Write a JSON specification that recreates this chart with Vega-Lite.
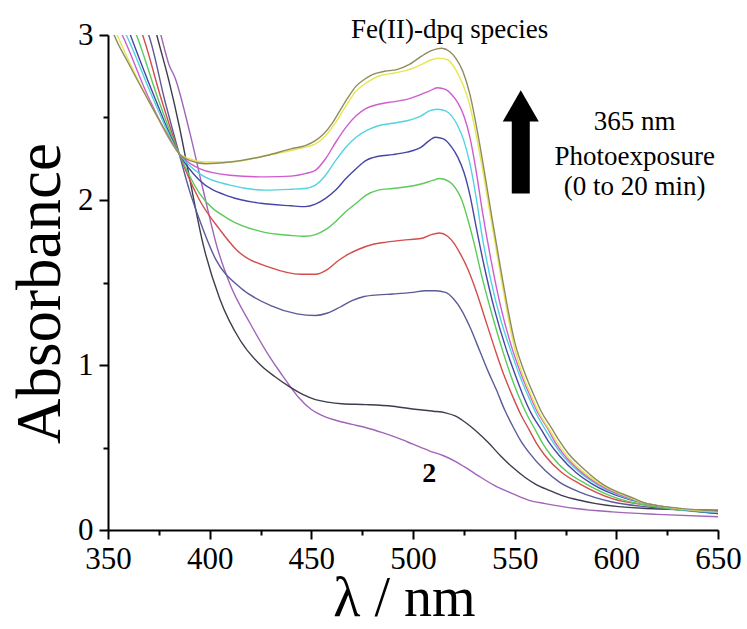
{
  "$schema": "https://vega.github.io/schema/vega-lite/v6.json",
  "width": 610,
  "height": 495,
  "autosize": {"type": "none"},
  "padding": {"left": 108, "top": 35, "right": 29, "bottom": 99},
  "background": "white",
  "config": {
    "view": {"stroke": null},
    "font": "Liberation Serif",
    "axis": {
      "grid": false,
      "domainColor": "black",
      "domainWidth": 2,
      "tickColor": "black",
      "tickWidth": 2,
      "labelColor": "black",
      "titleColor": "black",
      "labelFont": "Liberation Serif",
      "titleFont": "Liberation Serif",
      "titleFontWeight": "normal"
    }
  },
  "datasets": {
    "spectra": [
      {"t":"t0","wl":350,"A":3.6},{"t":"t0","wl":370,"A":3.25},{"t":"t0","wl":376,"A":3.0},{"t":"t0","wl":380,"A":2.82},{"t":"t0","wl":383,"A":2.74},{"t":"t0","wl":390,"A":2.42},{"t":"t0","wl":397,"A":2.05},{"t":"t0","wl":404,"A":1.70},{"t":"t0","wl":410,"A":1.49},{"t":"t0","wl":420,"A":1.25},{"t":"t0","wl":430,"A":1.04},{"t":"t0","wl":435,"A":0.95},{"t":"t0","wl":439,"A":0.88},{"t":"t0","wl":444,"A":0.80},{"t":"t0","wl":450,"A":0.73},{"t":"t0","wl":456,"A":0.69},{"t":"t0","wl":462,"A":0.665},{"t":"t0","wl":470,"A":0.64},{"t":"t0","wl":477,"A":0.62},{"t":"t0","wl":485,"A":0.59},{"t":"t0","wl":493,"A":0.555},{"t":"t0","wl":500,"A":0.52},{"t":"t0","wl":508,"A":0.48},{"t":"t0","wl":515,"A":0.45},{"t":"t0","wl":521,"A":0.415},{"t":"t0","wl":527,"A":0.37},{"t":"t0","wl":532,"A":0.33},{"t":"t0","wl":540,"A":0.27},{"t":"t0","wl":549,"A":0.22},{"t":"t0","wl":557,"A":0.18},{"t":"t0","wl":565,"A":0.16},{"t":"t0","wl":580,"A":0.13},{"t":"t0","wl":598,"A":0.11},{"t":"t0","wl":620,"A":0.095},{"t":"t0","wl":650,"A":0.08},

      {"t":"t1","wl":350,"A":3.6},{"t":"t1","wl":370,"A":3.2},{"t":"t1","wl":374,"A":3.0},{"t":"t1","wl":380,"A":2.72},{"t":"t1","wl":385,"A":2.45},{"t":"t1","wl":390,"A":2.14},{"t":"t1","wl":397,"A":1.72},{"t":"t1","wl":405,"A":1.40},{"t":"t1","wl":415,"A":1.15},{"t":"t1","wl":425,"A":1.00},{"t":"t1","wl":432,"A":0.93},{"t":"t1","wl":439,"A":0.87},{"t":"t1","wl":446,"A":0.82},{"t":"t1","wl":452,"A":0.79},{"t":"t1","wl":458,"A":0.775},{"t":"t1","wl":465,"A":0.765},{"t":"t1","wl":477,"A":0.76},{"t":"t1","wl":490,"A":0.75},{"t":"t1","wl":502,"A":0.73},{"t":"t1","wl":510,"A":0.72},{"t":"t1","wl":516,"A":0.71},{"t":"t1","wl":521,"A":0.69},{"t":"t1","wl":526,"A":0.65},{"t":"t1","wl":531,"A":0.60},{"t":"t1","wl":537,"A":0.53},{"t":"t1","wl":543,"A":0.45},{"t":"t1","wl":549,"A":0.38},{"t":"t1","wl":555,"A":0.32},{"t":"t1","wl":560,"A":0.28},{"t":"t1","wl":567,"A":0.24},{"t":"t1","wl":573,"A":0.21},{"t":"t1","wl":582,"A":0.18},{"t":"t1","wl":590,"A":0.16},{"t":"t1","wl":615,"A":0.13},{"t":"t1","wl":650,"A":0.12},

      {"t":"t2","wl":350,"A":3.4},{"t":"t2","wl":366,"A":3.1},{"t":"t2","wl":370,"A":3.0},{"t":"t2","wl":378,"A":2.6},{"t":"t2","wl":385,"A":2.28},{"t":"t2","wl":390,"A":2.06},{"t":"t2","wl":395,"A":1.88},{"t":"t2","wl":403,"A":1.64},{"t":"t2","wl":415,"A":1.47},{"t":"t2","wl":430,"A":1.36},{"t":"t2","wl":443,"A":1.31},{"t":"t2","wl":452,"A":1.30},{"t":"t2","wl":458,"A":1.315},{"t":"t2","wl":464,"A":1.35},{"t":"t2","wl":470,"A":1.39},{"t":"t2","wl":476,"A":1.415},{"t":"t2","wl":483,"A":1.425},{"t":"t2","wl":490,"A":1.43},{"t":"t2","wl":500,"A":1.44},{"t":"t2","wl":506,"A":1.45},{"t":"t2","wl":511,"A":1.45},{"t":"t2","wl":516,"A":1.44},{"t":"t2","wl":520,"A":1.40},{"t":"t2","wl":524,"A":1.33},{"t":"t2","wl":528,"A":1.23},{"t":"t2","wl":533,"A":1.08},{"t":"t2","wl":537,"A":0.96},{"t":"t2","wl":541,"A":0.85},{"t":"t2","wl":545,"A":0.73},{"t":"t2","wl":549,"A":0.63},{"t":"t2","wl":553,"A":0.54},{"t":"t2","wl":557,"A":0.47},{"t":"t2","wl":565,"A":0.36},{"t":"t2","wl":572,"A":0.29},{"t":"t2","wl":582,"A":0.23},{"t":"t2","wl":598,"A":0.17},{"t":"t2","wl":615,"A":0.14},{"t":"t2","wl":650,"A":0.11},

      {"t":"t3","wl":350,"A":3.4},{"t":"t3","wl":362,"A":3.15},{"t":"t3","wl":367,"A":3.0},{"t":"t3","wl":376,"A":2.62},{"t":"t3","wl":385,"A":2.28},{"t":"t3","wl":395,"A":2.00},{"t":"t3","wl":405,"A":1.82},{"t":"t3","wl":413,"A":1.70},{"t":"t3","wl":430,"A":1.59},{"t":"t3","wl":445,"A":1.55},{"t":"t3","wl":452,"A":1.55},{"t":"t3","wl":458,"A":1.58},{"t":"t3","wl":463,"A":1.63},{"t":"t3","wl":468,"A":1.67},{"t":"t3","wl":473,"A":1.70},{"t":"t3","wl":480,"A":1.73},{"t":"t3","wl":487,"A":1.745},{"t":"t3","wl":498,"A":1.76},{"t":"t3","wl":505,"A":1.77},{"t":"t3","wl":509,"A":1.79},{"t":"t3","wl":513,"A":1.80},{"t":"t3","wl":517,"A":1.78},{"t":"t3","wl":520,"A":1.74},{"t":"t3","wl":523,"A":1.68},{"t":"t3","wl":527,"A":1.58},{"t":"t3","wl":531,"A":1.45},{"t":"t3","wl":536,"A":1.26},{"t":"t3","wl":541,"A":1.07},{"t":"t3","wl":545,"A":0.93},{"t":"t3","wl":549,"A":0.81},{"t":"t3","wl":553,"A":0.70},{"t":"t3","wl":557,"A":0.61},{"t":"t3","wl":561,"A":0.52},{"t":"t3","wl":565,"A":0.45},{"t":"t3","wl":573,"A":0.35},{"t":"t3","wl":582,"A":0.28},{"t":"t3","wl":598,"A":0.19},{"t":"t3","wl":615,"A":0.15},{"t":"t3","wl":650,"A":0.10},

      {"t":"t4","wl":350,"A":3.35},{"t":"t4","wl":360,"A":3.12},{"t":"t4","wl":364,"A":3.0},{"t":"t4","wl":375,"A":2.60},{"t":"t4","wl":385,"A":2.28},{"t":"t4","wl":395,"A":2.04},{"t":"t4","wl":410,"A":1.88},{"t":"t4","wl":425,"A":1.81},{"t":"t4","wl":440,"A":1.785},{"t":"t4","wl":447,"A":1.78},{"t":"t4","wl":452,"A":1.79},{"t":"t4","wl":457,"A":1.82},{"t":"t4","wl":462,"A":1.87},{"t":"t4","wl":467,"A":1.93},{"t":"t4","wl":472,"A":1.98},{"t":"t4","wl":477,"A":2.03},{"t":"t4","wl":483,"A":2.06},{"t":"t4","wl":490,"A":2.07},{"t":"t4","wl":497,"A":2.08},{"t":"t4","wl":505,"A":2.10},{"t":"t4","wl":510,"A":2.12},{"t":"t4","wl":513,"A":2.13},{"t":"t4","wl":518,"A":2.11},{"t":"t4","wl":521,"A":2.07},{"t":"t4","wl":524,"A":2.00},{"t":"t4","wl":527,"A":1.88},{"t":"t4","wl":530,"A":1.74},{"t":"t4","wl":534,"A":1.53},{"t":"t4","wl":539,"A":1.30},{"t":"t4","wl":544,"A":1.09},{"t":"t4","wl":548,"A":0.94},{"t":"t4","wl":552,"A":0.81},{"t":"t4","wl":556,"A":0.70},{"t":"t4","wl":560,"A":0.61},{"t":"t4","wl":564,"A":0.52},{"t":"t4","wl":568,"A":0.45},{"t":"t4","wl":576,"A":0.35},{"t":"t4","wl":585,"A":0.28},{"t":"t4","wl":601,"A":0.19},{"t":"t4","wl":615,"A":0.15},{"t":"t4","wl":650,"A":0.10},

      {"t":"t5","wl":350,"A":3.3},{"t":"t5","wl":358,"A":3.1},{"t":"t5","wl":361,"A":3.0},{"t":"t5","wl":373,"A":2.62},{"t":"t5","wl":385,"A":2.28},{"t":"t5","wl":395,"A":2.12},{"t":"t5","wl":410,"A":2.02},{"t":"t5","wl":425,"A":1.98},{"t":"t5","wl":440,"A":1.965},{"t":"t5","wl":447,"A":1.96},{"t":"t5","wl":452,"A":1.975},{"t":"t5","wl":457,"A":2.01},{"t":"t5","wl":462,"A":2.06},{"t":"t5","wl":467,"A":2.13},{"t":"t5","wl":472,"A":2.19},{"t":"t5","wl":477,"A":2.24},{"t":"t5","wl":483,"A":2.265},{"t":"t5","wl":490,"A":2.275},{"t":"t5","wl":497,"A":2.29},{"t":"t5","wl":504,"A":2.32},{"t":"t5","wl":508,"A":2.36},{"t":"t5","wl":511,"A":2.38},{"t":"t5","wl":515,"A":2.37},{"t":"t5","wl":519,"A":2.32},{"t":"t5","wl":522,"A":2.26},{"t":"t5","wl":525,"A":2.17},{"t":"t5","wl":528,"A":2.03},{"t":"t5","wl":531,"A":1.84},{"t":"t5","wl":535,"A":1.60},{"t":"t5","wl":540,"A":1.34},{"t":"t5","wl":546,"A":1.09},{"t":"t5","wl":550,"A":0.95},{"t":"t5","wl":554,"A":0.82},{"t":"t5","wl":558,"A":0.71},{"t":"t5","wl":563,"A":0.61},{"t":"t5","wl":567,"A":0.53},{"t":"t5","wl":572,"A":0.45},{"t":"t5","wl":580,"A":0.35},{"t":"t5","wl":588,"A":0.28},{"t":"t5","wl":605,"A":0.19},{"t":"t5","wl":615,"A":0.16},{"t":"t5","wl":650,"A":0.10},

      {"t":"t6","wl":350,"A":3.25},{"t":"t6","wl":357,"A":3.05},{"t":"t6","wl":359,"A":3.0},{"t":"t6","wl":372,"A":2.62},{"t":"t6","wl":385,"A":2.28},{"t":"t6","wl":395,"A":2.16},{"t":"t6","wl":410,"A":2.09},{"t":"t6","wl":428,"A":2.06},{"t":"t6","wl":440,"A":2.065},{"t":"t6","wl":447,"A":2.07},{"t":"t6","wl":452,"A":2.09},{"t":"t6","wl":457,"A":2.15},{"t":"t6","wl":462,"A":2.24},{"t":"t6","wl":467,"A":2.32},{"t":"t6","wl":472,"A":2.38},{"t":"t6","wl":477,"A":2.42},{"t":"t6","wl":483,"A":2.45},{"t":"t6","wl":490,"A":2.465},{"t":"t6","wl":497,"A":2.48},{"t":"t6","wl":504,"A":2.51},{"t":"t6","wl":508,"A":2.54},{"t":"t6","wl":512,"A":2.55},{"t":"t6","wl":516,"A":2.54},{"t":"t6","wl":519,"A":2.51},{"t":"t6","wl":522,"A":2.45},{"t":"t6","wl":525,"A":2.36},{"t":"t6","wl":528,"A":2.22},{"t":"t6","wl":531,"A":2.02},{"t":"t6","wl":534,"A":1.78},{"t":"t6","wl":538,"A":1.53},{"t":"t6","wl":543,"A":1.28},{"t":"t6","wl":548,"A":1.09},{"t":"t6","wl":552,"A":0.95},{"t":"t6","wl":556,"A":0.83},{"t":"t6","wl":560,"A":0.72},{"t":"t6","wl":564.5,"A":0.62},{"t":"t6","wl":569,"A":0.53},{"t":"t6","wl":573,"A":0.46},{"t":"t6","wl":581,"A":0.36},{"t":"t6","wl":590,"A":0.28},{"t":"t6","wl":606,"A":0.19},{"t":"t6","wl":615,"A":0.16},{"t":"t6","wl":650,"A":0.105},

      {"t":"t7","wl":350,"A":3.2},{"t":"t7","wl":355,"A":3.05},{"t":"t7","wl":357,"A":3.0},{"t":"t7","wl":370,"A":2.62},{"t":"t7","wl":385,"A":2.28},{"t":"t7","wl":395,"A":2.19},{"t":"t7","wl":410,"A":2.15},{"t":"t7","wl":428,"A":2.14},{"t":"t7","wl":440,"A":2.145},{"t":"t7","wl":447,"A":2.16},{"t":"t7","wl":452,"A":2.18},{"t":"t7","wl":457,"A":2.25},{"t":"t7","wl":462,"A":2.35},{"t":"t7","wl":467,"A":2.44},{"t":"t7","wl":472,"A":2.51},{"t":"t7","wl":477,"A":2.555},{"t":"t7","wl":483,"A":2.58},{"t":"t7","wl":490,"A":2.595},{"t":"t7","wl":497,"A":2.61},{"t":"t7","wl":504,"A":2.64},{"t":"t7","wl":508,"A":2.66},{"t":"t7","wl":512,"A":2.68},{"t":"t7","wl":516,"A":2.67},{"t":"t7","wl":519,"A":2.64},{"t":"t7","wl":522,"A":2.59},{"t":"t7","wl":525,"A":2.51},{"t":"t7","wl":528,"A":2.38},{"t":"t7","wl":531,"A":2.18},{"t":"t7","wl":534,"A":1.94},{"t":"t7","wl":538,"A":1.66},{"t":"t7","wl":543,"A":1.36},{"t":"t7","wl":549,"A":1.09},{"t":"t7","wl":553,"A":0.95},{"t":"t7","wl":557,"A":0.83},{"t":"t7","wl":561,"A":0.72},{"t":"t7","wl":566,"A":0.62},{"t":"t7","wl":570,"A":0.53},{"t":"t7","wl":574,"A":0.46},{"t":"t7","wl":582,"A":0.36},{"t":"t7","wl":591,"A":0.28},{"t":"t7","wl":607,"A":0.19},{"t":"t7","wl":615,"A":0.16},{"t":"t7","wl":650,"A":0.11},

      {"t":"t8","wl":350,"A":3.12},{"t":"t8","wl":354.5,"A":3.0},{"t":"t8","wl":360,"A":2.85},{"t":"t8","wl":370,"A":2.60},{"t":"t8","wl":380,"A":2.38},{"t":"t8","wl":385,"A":2.28},{"t":"t8","wl":390,"A":2.25},{"t":"t8","wl":398,"A":2.23},{"t":"t8","wl":410,"A":2.23},{"t":"t8","wl":428,"A":2.27},{"t":"t8","wl":440,"A":2.30},{"t":"t8","wl":447,"A":2.32},{"t":"t8","wl":452,"A":2.34},{"t":"t8","wl":457,"A":2.39},{"t":"t8","wl":462,"A":2.47},{"t":"t8","wl":467,"A":2.57},{"t":"t8","wl":472,"A":2.66},{"t":"t8","wl":477,"A":2.71},{"t":"t8","wl":483,"A":2.75},{"t":"t8","wl":491,"A":2.77},{"t":"t8","wl":498,"A":2.79},{"t":"t8","wl":504,"A":2.82},{"t":"t8","wl":509,"A":2.85},{"t":"t8","wl":513,"A":2.86},{"t":"t8","wl":517,"A":2.85},{"t":"t8","wl":521,"A":2.79},{"t":"t8","wl":524.5,"A":2.70},{"t":"t8","wl":527.6,"A":2.59},{"t":"t8","wl":531,"A":2.40},{"t":"t8","wl":535,"A":2.13},{"t":"t8","wl":539,"A":1.84},{"t":"t8","wl":544,"A":1.48},{"t":"t8","wl":550,"A":1.10},{"t":"t8","wl":554,"A":0.94},{"t":"t8","wl":558,"A":0.82},{"t":"t8","wl":562,"A":0.71},{"t":"t8","wl":567,"A":0.61},{"t":"t8","wl":571,"A":0.53},{"t":"t8","wl":575,"A":0.46},{"t":"t8","wl":583,"A":0.36},{"t":"t8","wl":592,"A":0.28},{"t":"t8","wl":608,"A":0.19},{"t":"t8","wl":615,"A":0.16},{"t":"t8","wl":650,"A":0.11},

      {"t":"t9","wl":350,"A":3.1},{"t":"t9","wl":353,"A":3.0},{"t":"t9","wl":360,"A":2.83},{"t":"t9","wl":370,"A":2.60},{"t":"t9","wl":380,"A":2.38},{"t":"t9","wl":385,"A":2.28},{"t":"t9","wl":390,"A":2.24},{"t":"t9","wl":398,"A":2.22},{"t":"t9","wl":410,"A":2.23},{"t":"t9","wl":428,"A":2.27},{"t":"t9","wl":440,"A":2.31},{"t":"t9","wl":447,"A":2.33},{"t":"t9","wl":452,"A":2.36},{"t":"t9","wl":456,"A":2.40},{"t":"t9","wl":460,"A":2.46},{"t":"t9","wl":464,"A":2.54},{"t":"t9","wl":468,"A":2.62},{"t":"t9","wl":472,"A":2.69},{"t":"t9","wl":476,"A":2.73},{"t":"t9","wl":480,"A":2.76},{"t":"t9","wl":486,"A":2.78},{"t":"t9","wl":492,"A":2.79},{"t":"t9","wl":498,"A":2.82},{"t":"t9","wl":504,"A":2.87},{"t":"t9","wl":509,"A":2.905},{"t":"t9","wl":514,"A":2.92},{"t":"t9","wl":518,"A":2.90},{"t":"t9","wl":521,"A":2.86},{"t":"t9","wl":524.5,"A":2.78},{"t":"t9","wl":528,"A":2.64},{"t":"t9","wl":531,"A":2.46},{"t":"t9","wl":535,"A":2.18},{"t":"t9","wl":539,"A":1.88},{"t":"t9","wl":544,"A":1.52},{"t":"t9","wl":550,"A":1.14},{"t":"t9","wl":555,"A":0.95},{"t":"t9","wl":559,"A":0.83},{"t":"t9","wl":563,"A":0.72},{"t":"t9","wl":568,"A":0.62},{"t":"t9","wl":572,"A":0.54},{"t":"t9","wl":576,"A":0.47},{"t":"t9","wl":584,"A":0.37},{"t":"t9","wl":593,"A":0.28},{"t":"t9","wl":609,"A":0.19},{"t":"t9","wl":615,"A":0.16},{"t":"t9","wl":650,"A":0.115}
    ],
    "notes": [
      {"wl": 518, "A": 3.03, "text": "Fe(II)-dpq species"},
      {"wl": 609, "A": 2.47, "text": "365 nm"},
      {"wl": 609, "A": 2.26, "text": "Photoexposure"},
      {"wl": 609, "A": 2.08, "text": "(0 to 20 min)"}
    ],
    "label2": [
      {"wl": 508, "A": 0.34, "text": "2"}
    ],
    "arrow": [
      {"wl": 553, "lo": 2.04, "hi": 2.50, "head": 2.57}
    ]
  },
  "layer": [
    {
      "data": {"name": "spectra"},
      "mark": {"type": "line", "clip": true, "strokeWidth": 1.4, "interpolate": "monotone"},
      "encoding": {
        "x": {
          "field": "wl", "type": "quantitative",
          "scale": {"domain": [350, 650], "nice": false},
          "axis": {
            "values": [350, 375, 400, 425, 450, 475, 500, 525, 550, 575, 600, 625, 650],
            "labelExpr": "datum.value % 50 === 0 ? '' + datum.value : ''",
            "tickSize": {"condition": {"test": "datum.value % 50 === 0", "value": 9}, "value": 5},
            "labelPadding": 5,
            "labelFont": "Liberation Serif",
            "labelFontSize": 31,
            "labelFlush": false,
            "labelOverlap": false,
            "title": "λ / nm",
            "titleFont": "Liberation Serif",
            "titleFontSize": 56,
            "titleX": 296,
            "titleY": 85,
            "titleBaseline": "alphabetic"
          }
        },
        "y": {
          "field": "A", "type": "quantitative",
          "scale": {"domain": [0, 3], "nice": false},
          "axis": {
            "values": [0, 0.5, 1, 1.5, 2, 2.5, 3],
            "labelExpr": "datum.value % 1 === 0 ? '' + datum.value : ''",
            "tickSize": {"condition": {"test": "datum.value % 1 === 0", "value": 9}, "value": 5},
            "labelPadding": 6,
            "labelFont": "Liberation Serif",
            "labelFontSize": 31,
            "labelFlush": false,
            "labelOverlap": false,
            "title": "Absorbance",
            "titleFont": "Liberation Serif",
            "titleFontSize": 63,
            "titleX": -49,
            "titleY": 258,
            "titleBaseline": "alphabetic"
          }
        },
        "color": {
          "field": "t", "type": "nominal", "legend": null,
          "scale": {
            "domain": ["t0", "t1", "t2", "t3", "t4", "t5", "t6", "t7", "t8", "t9"],
            "range": ["#a065b8", "#3d3d4d", "#5b5b98", "#d44c4c", "#5acb5a", "#4646a6", "#50d4e0", "#cf5ccf", "#e6e650", "#8e8c5e"]
          }
        }
      }
    },
    {
      "data": {"name": "arrow"},
      "mark": {"type": "rule", "strokeWidth": 18, "color": "black", "strokeCap": "butt"},
      "encoding": {
        "x": {"field": "wl", "type": "quantitative"},
        "y": {"field": "lo", "type": "quantitative"},
        "y2": {"field": "hi"}
      }
    },
    {
      "data": {"name": "arrow"},
      "mark": {"type": "point", "shape": "triangle-up", "size": 1296, "filled": true, "color": "black", "opacity": 1, "strokeWidth": 0},
      "encoding": {
        "x": {"field": "wl", "type": "quantitative"},
        "y": {"field": "head", "type": "quantitative"}
      }
    },
    {
      "data": {"name": "notes"},
      "mark": {"type": "text", "font": "Liberation Serif", "fontSize": 27, "color": "black", "align": "center", "baseline": "middle"},
      "encoding": {
        "x": {"field": "wl", "type": "quantitative"},
        "y": {"field": "A", "type": "quantitative"},
        "text": {"field": "text"}
      }
    },
    {
      "data": {"name": "label2"},
      "mark": {"type": "text", "font": "Liberation Serif", "fontSize": 28, "fontWeight": "bold", "color": "black", "align": "center", "baseline": "middle"},
      "encoding": {
        "x": {"field": "wl", "type": "quantitative"},
        "y": {"field": "A", "type": "quantitative"},
        "text": {"field": "text"}
      }
    }
  ]
}
